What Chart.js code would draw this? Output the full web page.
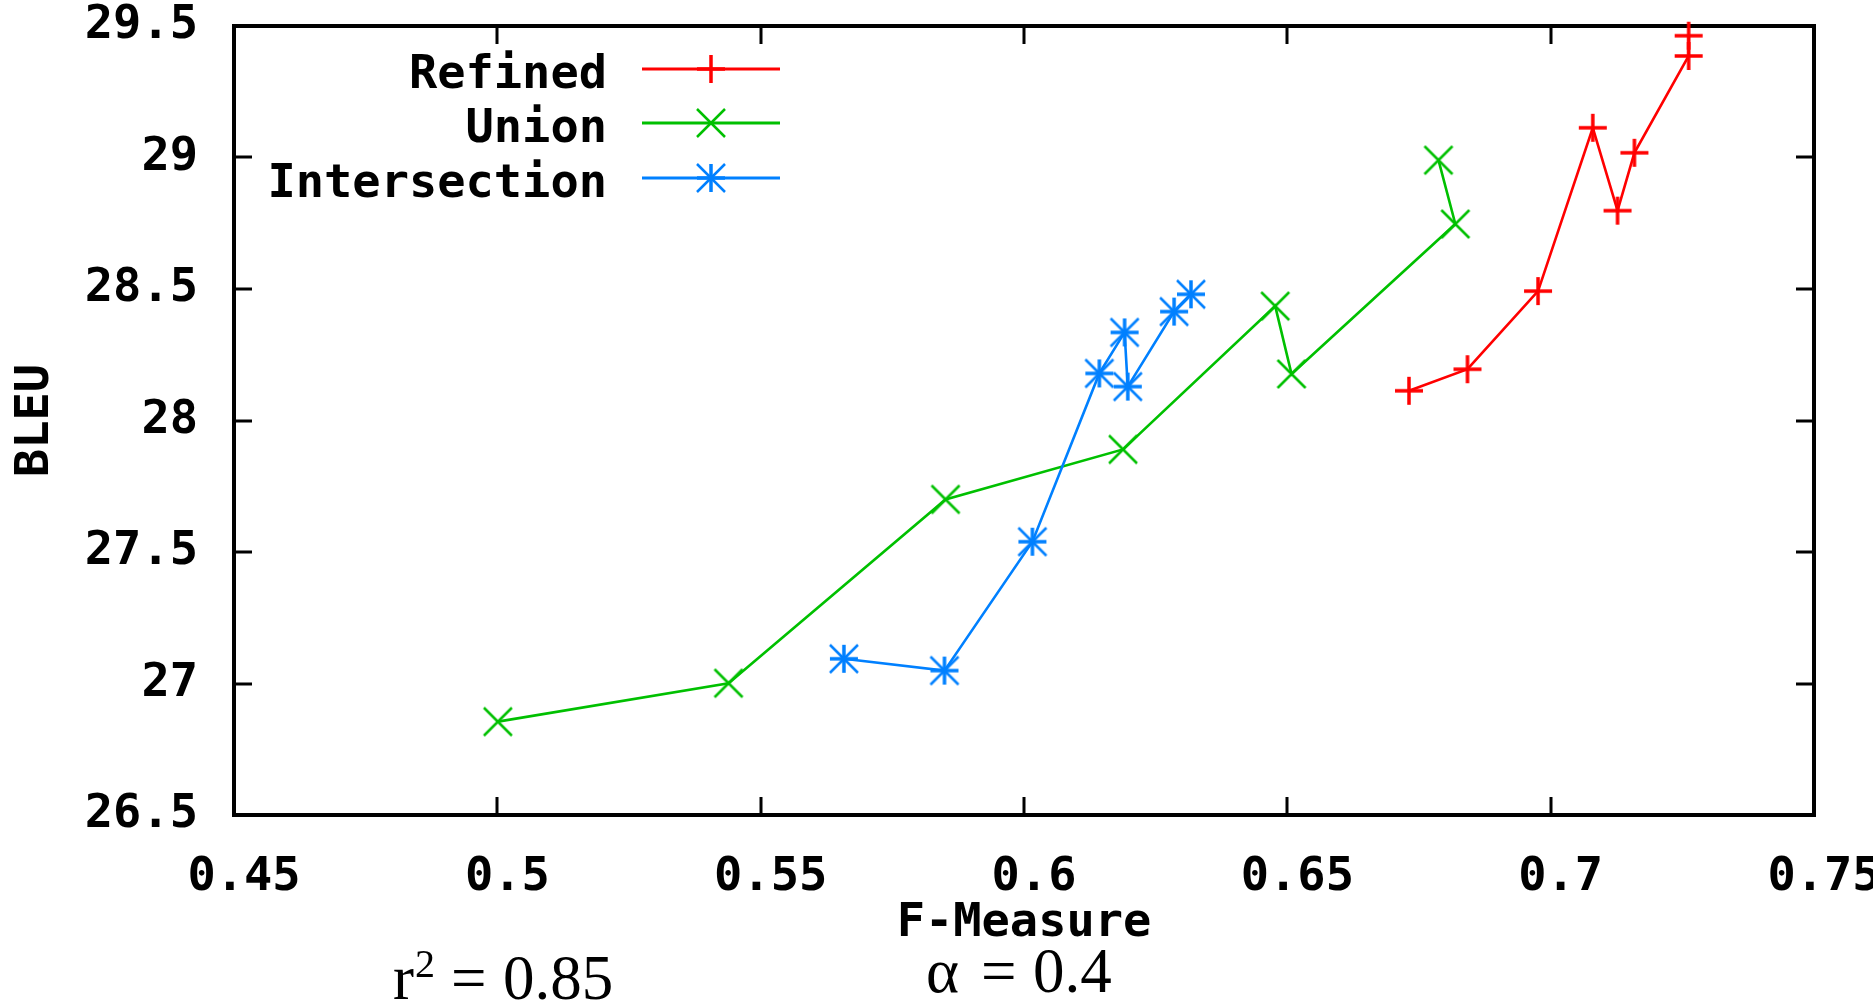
<!DOCTYPE html>
<html><head><meta charset="utf-8">
<script src="https://cdn.jsdelivr.net/npm/chart.js@4.4.1/dist/chart.umd.min.js"></script>
<style>html,body{margin:0;padding:0;background:#fff;overflow:hidden}#wrap{width:1873px;height:1001px;position:relative}</style>
</head><body><div id="wrap"><canvas id="c" width="1873" height="1001"></canvas></div>
<script>
// ---- data ----
const seriesNames = ['Refined', 'Union', 'Intersection'];
const refinedF = [0.6731, 0.6842, 0.6976, 0.7080, 0.7127, 0.7159, 0.7262, 0.7262];
const refinedB = [28.113, 28.195, 28.492, 29.113, 28.798, 29.018, 29.386, 29.463];
const unionF = [0.5001, 0.5439, 0.5851, 0.6188, 0.6477, 0.6508, 0.6819, 0.6787];
const unionB = [26.855, 27.001, 27.700, 27.890, 28.435, 28.177, 28.747, 28.990];
const interF = [0.5658, 0.5849, 0.6016, 0.6143, 0.6191, 0.6197, 0.6285, 0.6317];
const interB = [27.094, 27.049, 27.539, 28.179, 28.335, 28.129, 28.414, 28.480];
const xTickValues = [0.45, 0.5, 0.55, 0.6, 0.65, 0.7, 0.75];
const xTickLabels = ['0.45', '0.5', '0.55', '0.6', '0.65', '0.7', '0.75'];
const yTickValues = [26.5, 27, 27.5, 28, 28.5, 29, 29.5];
const yTickLabels = ['26.5', '27', '27.5', '28', '28.5', '29', '29.5'];
const xTitle = 'F-Measure';
const yTitle = 'BLEU';
const noteR2 = ['r', '2', '=', '0.85'];
const noteAlpha = ['\u03B1', '=', '0.4'];

// ---- styles ----
const MONO = '"DejaVu Sans Mono", "Liberation Mono", monospace';
const SERIF = '"Liberation Serif", "DejaVu Serif", serif';
const colors = ['#ff0000', '#00c000', '#0080ff'];

function makeMarker(plus, cross, color, half, lwPlus, lwCross) {
  const s = half * 2 + 6;
  const c = document.createElement('canvas');
  c.width = s; c.height = s;
  const g = c.getContext('2d');
  const m = s / 2;
  g.strokeStyle = color;
  g.lineCap = 'butt';
  if (plus) {
    g.lineWidth = lwPlus;
    g.beginPath();
    g.moveTo(m - half, m); g.lineTo(m + half, m);
    g.moveTo(m, m - half); g.lineTo(m, m + half);
    g.stroke();
  }
  if (cross) {
    g.lineWidth = lwCross;
    g.beginPath();
    g.moveTo(m - half, m - half); g.lineTo(m + half, m + half);
    g.moveTo(m - half, m + half); g.lineTo(m + half, m - half);
    g.stroke();
  }
  return c;
}
const markers = [
  makeMarker(true, false, colors[0], 14, 3.5, 0),
  makeMarker(false, true, colors[1], 14, 0, 2.5),
  makeMarker(true, true, colors[2], 14, 3.5, 2.5)
];

function pts(xs, ys) { return xs.map((x, i) => ({x: x, y: ys[i]})); }

const datasets = [
  {label: seriesNames[0], data: pts(refinedF, refinedB)},
  {label: seriesNames[1], data: pts(unionF, unionB)},
  {label: seriesNames[2], data: pts(interF, interB)}
].map((d, i) => Object.assign(d, {
  showLine: true,
  borderColor: colors[i],
  backgroundColor: colors[i],
  borderWidth: 2.6,
  pointStyle: markers[i],
  pointRadius: 14,
  pointHoverRadius: 14,
  clip: false,
  order: 2 - i
}));

const framePlugin = {
  id: 'frame',
  beforeDatasetsDraw(chart) {
    const {ctx, chartArea: a, scales} = chart;
    ctx.save();
    ctx.strokeStyle = '#000';
    ctx.lineWidth = 3;
    const tl = 18;
    ctx.beginPath();
    scales.x.ticks.forEach(t => {
      const px = Math.round(scales.x.getPixelForValue(t.value));
      ctx.moveTo(px, a.bottom); ctx.lineTo(px, a.bottom - tl);
      ctx.moveTo(px, a.top); ctx.lineTo(px, a.top + tl);
    });
    scales.y.ticks.forEach(t => {
      const py = Math.round(scales.y.getPixelForValue(t.value));
      ctx.moveTo(a.left, py); ctx.lineTo(a.left + tl, py);
      ctx.moveTo(a.right, py); ctx.lineTo(a.right - tl, py);
    });
    ctx.stroke();
    ctx.lineWidth = 4;
    ctx.strokeRect(a.left, a.top, a.right - a.left, a.bottom - a.top);
    ctx.restore();
  },
  afterDraw(chart) {
    const {ctx} = chart;
    ctx.save();
    // legend
    const rows = [69, 123, 178];
    ctx.font = 'bold 47px ' + MONO;
    ctx.textAlign = 'right';
    ctx.textBaseline = 'alphabetic';
    chart.data.datasets.forEach((d, i) => {
      const y = rows[i];
      ctx.fillStyle = '#000';
      ctx.fillText(d.label, 607, y + 19);
      ctx.strokeStyle = d.borderColor;
      ctx.lineWidth = 3;
      ctx.beginPath(); ctx.moveTo(642, y); ctx.lineTo(780, y); ctx.stroke();
      const img = d.pointStyle;
      ctx.drawImage(img, 711 - img.width / 2, y - img.height / 2);
    });
    // annotations
    ctx.fillStyle = '#000';
    ctx.textAlign = 'left';
    ctx.font = '63px ' + SERIF;
    ctx.fillText(noteR2[0], 393, 999);
    ctx.font = '40px ' + SERIF;
    ctx.fillText(noteR2[1], 415, 977);
    ctx.font = '63px ' + SERIF;
    ctx.fillText(noteR2[2], 451, 999);
    ctx.fillText(noteR2[3], 503, 999);
    ctx.fillText(noteAlpha[0], 926, 992);
    ctx.fillText(noteAlpha[1], 981, 992);
    ctx.fillText(noteAlpha[2], 1033, 992);
    ctx.restore();
  }
};

new Chart(document.getElementById('c'), {
  type: 'scatter',
  data: {datasets: datasets},
  options: {
    responsive: false,
    animation: false,
    events: [],
    layout: {padding: {top: 26, right: 59, left: 0, bottom: 0}},
    plugins: {legend: {display: false}, tooltip: {enabled: false}},
    scales: {
      x: {
        type: 'linear', min: 0.45, max: 0.75,
        afterBuildTicks: s => { s.ticks = xTickValues.map(v => ({value: v})); },
        afterFit: s => { s.height = 186; s.paddingLeft = 0; s.paddingRight = 0; },
        grid: {display: false, drawTicks: false},
        border: {display: false},
        ticks: {
          autoSkip: false, maxRotation: 0, padding: 35, labelOffset: 10, color: '#000',
          font: {family: MONO, size: 47, weight: 'bold'},
          callback: (v, i) => xTickLabels[i]
        },
        title: {display: true, text: xTitle, color: '#000', padding: {top: 0, bottom: 49},
          font: {family: MONO, size: 47, weight: 'bold'}}
      },
      y: {
        type: 'linear', min: 26.5, max: 29.5,
        afterBuildTicks: s => { s.ticks = yTickValues.map(v => ({value: v})); },
        afterFit: s => { s.width = 234; s.paddingTop = 0; s.paddingBottom = 0; },
        grid: {display: false, drawTicks: false},
        border: {display: false},
        ticks: {
          autoSkip: false, padding: 36, color: '#000',
          font: {family: MONO, size: 47, weight: 'bold'},
          callback: (v, i) => yTickLabels[i]
        },
        title: {display: true, text: yTitle, color: '#000', padding: {top: 8, bottom: 0},
          font: {family: MONO, size: 47, weight: 'bold'}}
      }
    }
  },
  plugins: [framePlugin]
});
</script>
</body></html>
